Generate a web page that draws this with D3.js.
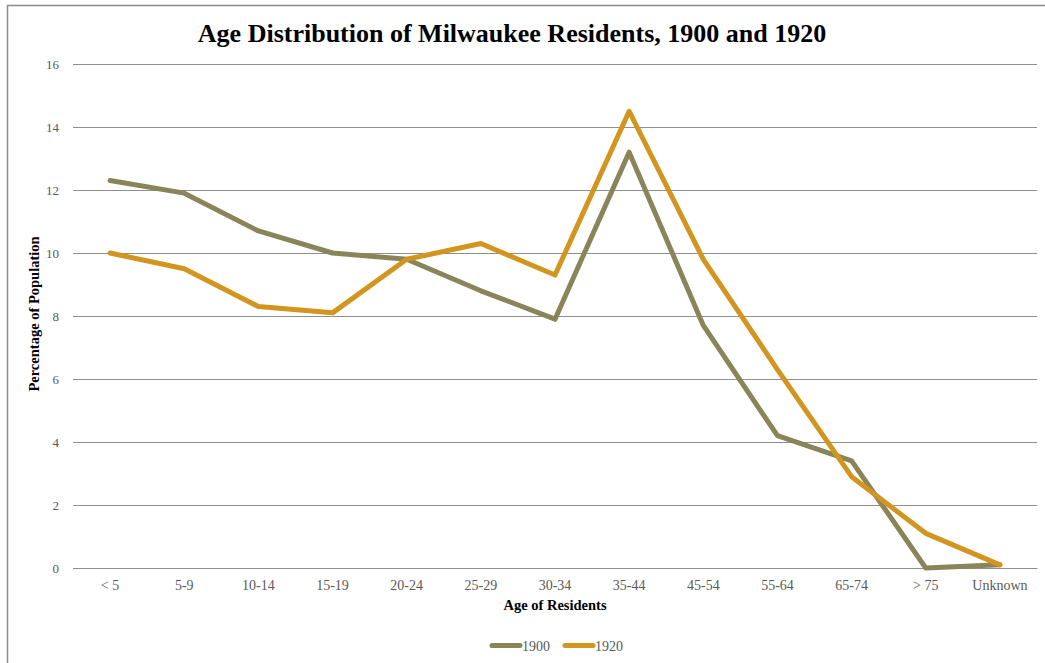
<script src="https://d3js.org/d3.v7.min.js"></script>

<style type="text/css">
  body { margin: 0; background: #fff; }
  svg { width: 1045px; height: 663px; display: block; }
  text { font-family: "Liberation Serif", "DejaVu Serif", serif; }
</style>

<body></body>

<script>
  // data
  var ageGroups = ["< 5", "5-9", "10-14", "15-19", "20-24", "25-29", "30-34",
                   "35-44", "45-54", "55-64", "65-74", "> 75", "Unknown"];
  var years = ["1900", "1920"];
  var pct1900 = [12.3, 11.9, 10.7, 10.0, 9.8, 8.8, 7.9, 13.2, 7.7, 4.2, 3.4, 0.0, 0.1];
  var pct1920 = [10.0, 9.5, 8.3, 8.1, 9.8, 10.3, 9.3, 14.5, 9.8, 6.3, 2.9, 1.1, 0.1];
  var yTicks = [0, 2, 4, 6, 8, 10, 12, 14, 16];

  var colors = {"1900": "#8a8459", "1920": "#d2951f"};

  var width = 1045, height = 663;
  var margin = {top: 64, bottom: 95, left: 73, right: 8};

  var svg = d3.select('body').append('svg')
    .attr('width', width).attr('height', height);

  // outer frame (only top and left edges show)
  svg.append('path')
    .attr('d', 'M7.5,' + height + 'V5.5H' + width)
    .attr('fill', 'none')
    .attr('stroke', '#8c8c8c')
    .attr('stroke-width', 1.5);

  var xScale = d3.scaleBand()
    .domain(ageGroups)
    .range([margin.left, width - margin.right]);
  var yScale = d3.scaleLinear()
    .domain([0, 16])
    .range([height - margin.bottom, margin.top]);

  // gridlines + y labels
  var yAxis = d3.axisLeft(yScale)
    .tickValues(yTicks)
    .tickSize(-(width - margin.right - margin.left))
    .tickPadding(14);
  var gy = svg.append('g')
    .attr('transform', 'translate(' + margin.left + ',0)')
    .call(yAxis);
  gy.select('.domain').remove();
  gy.selectAll('line').attr('stroke', '#8f8f8f').attr('stroke-width', 1);
  gy.selectAll('text')
    .attr('fill', '#595959')
    .style('font-size', '13px');

  // x axis labels
  var xAxis = d3.axisBottom(xScale).tickSize(0).tickPadding(12);
  var gx = svg.append('g')
    .attr('transform', 'translate(0,' + (height - margin.bottom) + ')')
    .call(xAxis);
  gx.select('.domain').attr('stroke', '#8f8f8f');
  gx.selectAll('text')
    .attr('fill', '#595959')
    .style('font-size', '14px');

  // lines
  var series = [
    {year: "1900", values: pct1900},
    {year: "1920", values: pct1920}
  ];
  var line = d3.line()
    .x(function(d, i) { return xScale(ageGroups[i]) + xScale.bandwidth() / 2; })
    .y(function(d) { return yScale(d); });

  svg.selectAll('path.series')
    .data(series)
    .enter().append('path')
    .attr('class', 'series')
    .attr('fill', 'none')
    .attr('stroke', function(d) { return colors[d.year]; })
    .attr('stroke-width', 5)
    .attr('stroke-linecap', 'round')
    .attr('stroke-linejoin', 'round')
    .attr('d', function(d) { return line(d.values); });

  // title
  svg.append('text')
    .attr('x', 512).attr('y', 42)
    .attr('text-anchor', 'middle')
    .style('font-size', '26px')
    .style('font-weight', 'bold')
    .attr('fill', '#000')
    .text('Age Distribution of Milwaukee Residents, 1900 and 1920');

  // axis titles
  svg.append('text')
    .attr('transform', 'translate(39,' + 314 + ') rotate(-90)')
    .attr('text-anchor', 'middle')
    .style('font-size', '14.5px')
    .style('font-weight', 'bold')
    .text('Percentage of Population');

  svg.append('text')
    .attr('x', 555).attr('y', 610)
    .attr('text-anchor', 'middle')
    .style('font-size', '14.5px')
    .style('font-weight', 'bold')
    .text('Age of Residents');

  // legend
  var legend = svg.selectAll('g.legend')
    .data(years)
    .enter().append('g')
    .attr('class', 'legend')
    .attr('transform', function(d, i) { return 'translate(' + (490 + i * 73) + ',645.5)'; });
  legend.append('line')
    .attr('x1', 2).attr('x2', 30)
    .attr('stroke', function(d) { return colors[d]; })
    .attr('stroke-width', 5)
    .attr('stroke-linecap', 'round');
  legend.append('text')
    .attr('x', 32).attr('y', 5)
    .attr('fill', '#595959')
    .style('font-size', '14px')
    .text(function(d) { return d; });
</script>
